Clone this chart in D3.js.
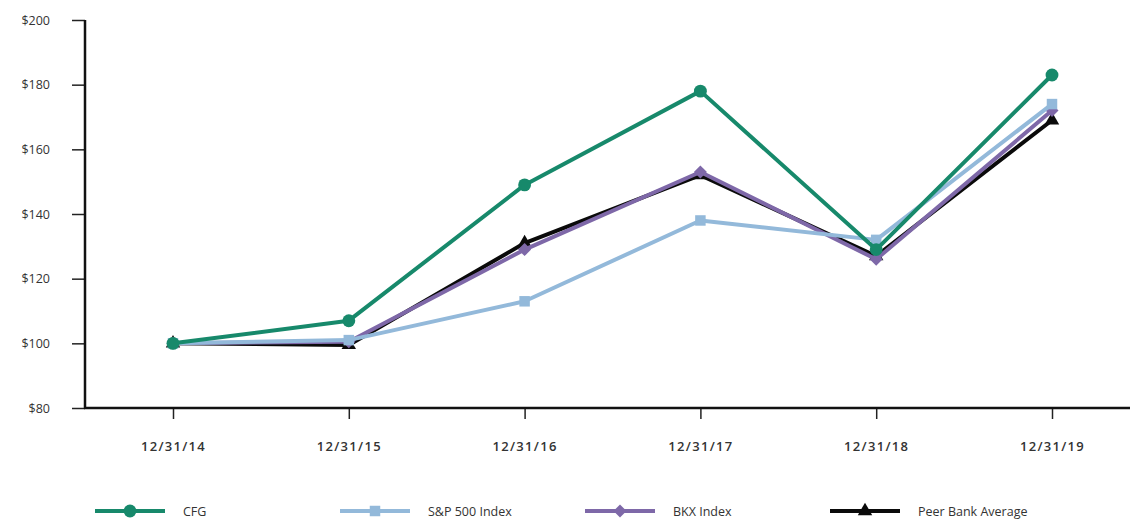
<html lang="en">
<head>
    <meta charset="UTF-8">
    <title>Total Return Comparison</title>
    <style>
        body { margin: 0; background: #fff; }
        text { font-family: "Open Sans", "DejaVu Sans", sans-serif; fill: #333; }
    </style>
</head>
<body>
    <div id="graph"></div>
    <script src="https://d3js.org/d3.v7.min.js"></script>
    <script>
        // data
        var dates = ["12/31/14", "12/31/15", "12/31/16", "12/31/17", "12/31/18", "12/31/19"];
        var yTicks = [80, 100, 120, 140, 160, 180, 200];
        var cfg = [100, 107, 149, 178, 129, 183];
        var sp500 = [100, 101, 113, 138, 132, 174];
        var bkx = [100, 100.5, 129, 153, 126, 172];
        var peer = [100, 99.5, 131, 152, 127, 169];

        var seriesNames = ["CFG", "S&P 500 Index", "BKX Index", "Peer Bank Average"];

        var W = 1130, H = 519;
        var plotLeft = 85, plotTop = 20, plotBottom = 408;

        var svg = d3.select("#graph").append("svg")
            .attr("width", W)
            .attr("height", H);

        // scales
        var x = d3.scalePoint().domain(dates).range([173, 1052]);
        var y = d3.scaleLinear().domain([80, 200]).range([plotBottom, plotTop]);

        // y axis
        var yAxis = svg.append("g")
            .attr("transform", "translate(" + plotLeft + ",0)")
            .call(d3.axisLeft(y).tickValues(yTicks).tickSize(13).tickPadding(22)
                .tickFormat(function(d) { return "$" + d; }));
        yAxis.select(".domain").remove();
        yAxis.selectAll("line").attr("stroke", "#222").attr("stroke-width", 1.5);
        yAxis.selectAll("text").style("font-size", "12.5px").attr("fill", "#2a2a2a");
        svg.append("line")
            .attr("x1", plotLeft).attr("x2", plotLeft)
            .attr("y1", plotTop).attr("y2", plotBottom + 1)
            .attr("stroke", "#111").attr("stroke-width", 2.5);

        // x axis
        var xAxis = svg.append("g")
            .attr("transform", "translate(0," + plotBottom + ")")
            .call(d3.axisBottom(x).tickSize(11).tickPadding(23));
        xAxis.select(".domain").remove();
        xAxis.selectAll("line").attr("stroke", "#222").attr("stroke-width", 1.5);
        xAxis.selectAll("text").style("font-size", "13px").style("font-weight", "600")
            .style("letter-spacing", "1.3px").attr("fill", "#2a2a2a");
        svg.append("line")
            .attr("x1", plotLeft - 1).attr("x2", W)
            .attr("y1", plotBottom).attr("y2", plotBottom)
            .attr("stroke", "#111").attr("stroke-width", 2.5);

        // series, drawn bottom to top
        var series = [
            { name: seriesNames[3], values: peer, color: "#0a0a0a", symbol: d3.symbolTriangle, size: 90, rotate: 0 },
            { name: seriesNames[2], values: bkx, color: "#7e68a8", symbol: d3.symbolSquare, size: 85, rotate: 45 },
            { name: seriesNames[1], values: sp500, color: "#93b9da", symbol: d3.symbolSquare, size: 110, rotate: 0 },
            { name: seriesNames[0], values: cfg, color: "#17896b", symbol: d3.symbolCircle, size: 130, rotate: 0 }
        ];

        var line = d3.line()
            .x(function(d, i) { return x(dates[i]); })
            .y(function(d) { return y(d); });

        series.forEach(function(s) {
            svg.append("path")
                .datum(s.values)
                .attr("fill", "none")
                .attr("stroke", s.color)
                .attr("stroke-width", 4)
                .attr("stroke-linejoin", "round")
                .attr("d", line);
            svg.selectAll(null)
                .data(s.values)
                .enter().append("path")
                .attr("d", d3.symbol().type(s.symbol).size(s.size))
                .attr("fill", s.color)
                .attr("transform", function(d, i) {
                    return "translate(" + x(dates[i]) + "," + y(d) + ") rotate(" + s.rotate + ")";
                });
        });

        // legend
        var legendX = [95, 340, 585, 830];
        var legendOrder = [3, 2, 1, 0];
        legendOrder.forEach(function(si, k) {
            var s = series[si];
            var g = svg.append("g").attr("transform", "translate(" + legendX[k] + ",511)");
            g.append("line")
                .attr("x1", 0).attr("x2", 70)
                .attr("stroke", s.color).attr("stroke-width", 4);
            g.append("path")
                .attr("d", d3.symbol().type(s.symbol).size(s.size))
                .attr("fill", s.color)
                .attr("transform", "translate(35,0) rotate(" + s.rotate + ")");
            g.append("text")
                .attr("x", 88).attr("y", 4.5)
                .style("font-size", "12.5px")
                .text(s.name);
        });
    </script>
</body>
</html>
